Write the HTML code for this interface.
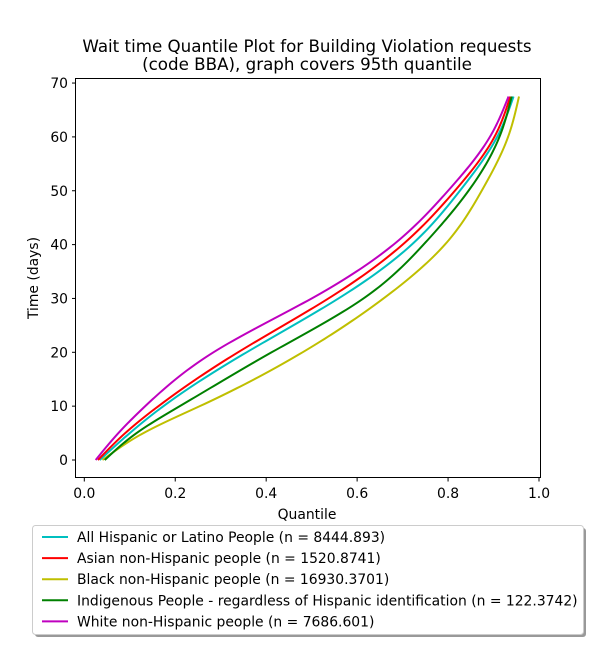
<!DOCTYPE html>
<html><head><meta charset="utf-8"><style>
body{margin:0;background:#fff;}
svg text{font-family:"DejaVu Sans","Liberation Sans",sans-serif;fill:#000;}
</style></head><body>
<svg id="chart" width="600" height="650">
<text x="307" y="52" font-size="16.7" text-anchor="middle">Wait time Quantile Plot for Building Violation  requests</text>
<text x="307" y="70" font-size="16.7" text-anchor="middle">(code BBA), graph covers 95th quantile</text>
<g id="axes"></g>
<g id="series"></g>
<rect x="75.5" y="78.5" width="465" height="399" fill="none" stroke="#000" stroke-width="1"/>
<text x="307" y="519" font-size="13.9" text-anchor="middle">Quantile</text>
<text transform="translate(38,278) rotate(-90)" font-size="13.9" text-anchor="middle">Time (days)</text>
<rect x="35" y="528" width="551" height="109" rx="3" fill="#999"/>
<rect x="32.5" y="525.5" width="551" height="109" rx="3" fill="#fff" stroke="#ccc"/>
<g id="legend"></g>
</svg>
<script>
const levels = [0, 5, 10, 20, 30, 40, 50, 60, 67.5];
const seriesNames = ["All Hispanic or Latino People (n = 8444.893)","Asian non-Hispanic people (n = 1520.8741)","Black non-Hispanic people (n = 16930.3701)","Indigenous People - regardless of Hispanic identification (n = 122.3742)","White non-Hispanic people (n = 7686.601)"];
const seriesColors = ["#00bfbf","#ff0000","#bfbf00","#008000","#bf00bf"];
const hispanicQ = [0.034, 0.100, 0.174, 0.357, 0.559, 0.720, 0.826, 0.908, 0.944];
const asianQ = [0.030, 0.090, 0.163, 0.338, 0.537, 0.700, 0.815, 0.902, 0.937];
const blackQ = [0.040, 0.130, 0.254, 0.480, 0.658, 0.793, 0.874, 0.932, 0.956];
const indigenousQ = [0.045, 0.115, 0.210, 0.412, 0.614, 0.746, 0.845, 0.913, 0.940];
const whiteQ = [0.025, 0.075, 0.134, 0.284, 0.500, 0.680, 0.800, 0.892, 0.933];
const xTicks = [0, 0.2, 0.4, 0.6, 0.8, 1.0];
const yTicks = [0, 10, 20, 30, 40, 50, 60, 70];

const NS="http://www.w3.org/2000/svg";
const xs = v => 84.3 + v*454.7;
const ys = v => 460 - v*5.385;
const axes=document.getElementById('axes');
function mk(tag,attrs,parent){const e=document.createElementNS(NS,tag);for(const k in attrs)e.setAttribute(k,attrs[k]);parent.appendChild(e);return e;}
xTicks.forEach(t=>{
  const l=mk('line',{x1:xs(t),x2:xs(t),y1:478,y2:481.5,stroke:'#000'},axes);
  
  
  const tx=mk('text',{x:xs(t),y:498,'font-size':13.9,'text-anchor':'middle'},axes);
  tx.textContent=t.toFixed(1);
  
  
});
yTicks.forEach(t=>{
  const l=mk('line',{x1:72,x2:75.5,y1:ys(t),y2:ys(t),stroke:'#000'},axes);
  
  
  const tx=mk('text',{x:68,y:ys(t)+5,'font-size':13.9,'text-anchor':'end'},axes);
  tx.textContent=String(t);
  
  
});
// natural cubic spline of quantile as a function of time level
function curvePath(q){
  const n=levels.length, h=[];
  for(let i=0;i<n-1;i++)h.push(levels[i+1]-levels[i]);
  const a=new Array(n).fill(0),b=new Array(n).fill(1),c=new Array(n).fill(0),r=new Array(n).fill(0);
  for(let i=1;i<n-1;i++){
    a[i]=h[i-1];b[i]=2*(h[i-1]+h[i]);c[i]=h[i];
    r[i]=6*((q[i+1]-q[i])/h[i]-(q[i]-q[i-1])/h[i-1]);
  }
  for(let i=1;i<n;i++){const w=a[i]/b[i-1];b[i]-=w*c[i-1];r[i]-=w*r[i-1];}
  const M=new Array(n).fill(0);
  M[n-1]=r[n-1]/b[n-1];
  for(let i=n-2;i>=0;i--)M[i]=(r[i]-c[i]*M[i+1])/b[i];
  let d='';
  for(let i=0;i<n-1;i++){
    for(let s=0;s<=24;s++){
      if(i>0&&s===0)continue;
      const t=s/24, A=1-t, B=t, hi=h[i];
      const v=A*q[i]+B*q[i+1]+((A*A*A-A)*M[i]+(B*B*B-B)*M[i+1])*hi*hi/6;
      const y=levels[i]+t*hi;
      d+=(d?'L':'M')+xs(v).toFixed(2)+','+ys(y).toFixed(2);
    }
  }
  return d;
}
const allQ=[hispanicQ,asianQ,blackQ,indigenousQ,whiteQ];
const keys=['hispanic','asian','black','indigenous','white'];
const sg=document.getElementById('series');
allQ.forEach((q,i)=>{
  const p=mk('path',{d:curvePath(q),fill:'none',stroke:seriesColors[i],'stroke-width':2},sg);
  
  
});
const lg=document.getElementById('legend');
seriesNames.forEach((n,i)=>{
  const y=537+i*21.1;
  const l=mk('line',{x1:42,x2:68,y1:y,y2:y,stroke:seriesColors[i],'stroke-width':2},lg);
  
  
  const t=mk('text',{x:77,y:y+5,'font-size':13.9},lg);
  t.textContent=n;
  
  
});
</script>
</body></html>
